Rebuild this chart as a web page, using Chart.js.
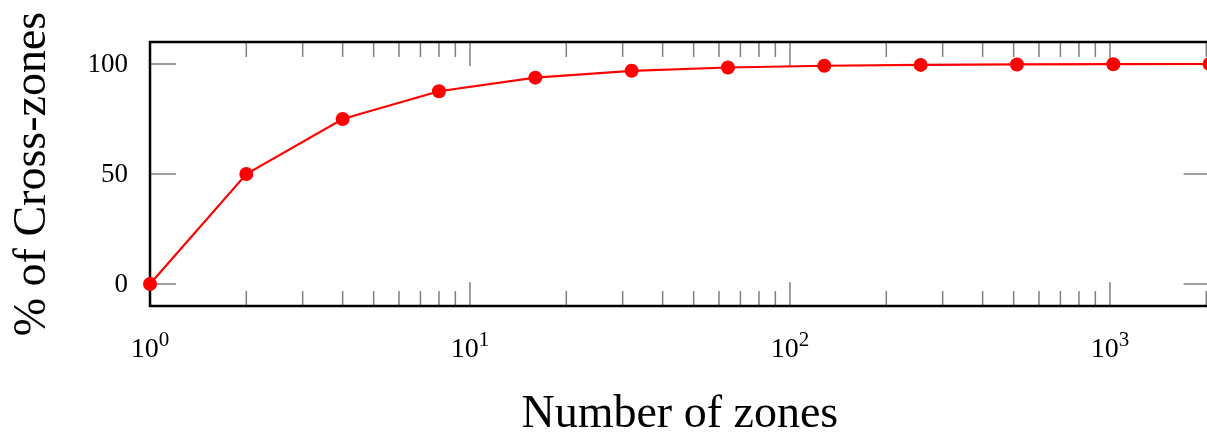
<!DOCTYPE html>
<html>
<head>
<meta charset="utf-8">
<script src="https://cdn.jsdelivr.net/npm/chart.js@4.4.1/dist/chart.umd.min.js"></script>
<style>
    html, body { margin: 0; padding: 0; background: #fff; overflow: hidden; }
    #marco { width: 1207px; height: 433px; overflow: hidden; position: relative; }
    canvas { display: block; }
</style>
</head>
<body>
<div id="marco"><canvas id="grafico" width="1212" height="433"></canvas></div>
<script>
// Datos
const zonas = [1, 2, 4, 8, 16, 32, 64, 128, 256, 512, 1024, 2048];
const porcentajeCross = [0, 50, 75, 87.6, 93.8, 96.9, 98.4, 99.2, 99.6, 99.8, 99.9, 100];
const ticksY = [0, 50, 100];
const decadasX = [0, 1, 2, 3];
const tituloX = 'Number of zones';
const tituloY = '% of Cross-zones';

const fuente = '"Liberation Serif", "Times New Roman", serif';

// Marco, marcas interiores, etiquetas y títulos
const ejes = {
    id: 'ejes',
    beforeDatasetsDraw(chart) {
        const { ctx, chartArea: a, scales: { x, y } } = chart;
        ctx.save();

        // marcas
        ctx.strokeStyle = '#7f7f7f';
        ctx.lineWidth = 1.5;
        ctx.beginPath();
        decadasX.forEach(d => {
            for (let m = 1; m <= 9; m++) {
                const v = m * Math.pow(10, d);
                if (v <= x.min || v > x.max) continue;
                const px = x.getPixelForValue(v);
                const largo = m === 1 ? 24 : 15;
                ctx.moveTo(px, a.bottom); ctx.lineTo(px, a.bottom - largo);
                ctx.moveTo(px, a.top); ctx.lineTo(px, a.top + largo);
            }
        });
        ticksY.forEach(v => {
            const py = y.getPixelForValue(v);
            ctx.moveTo(a.left, py); ctx.lineTo(a.left + 26, py);
            ctx.moveTo(a.right, py); ctx.lineTo(a.right - 26, py);
        });
        ctx.stroke();

        // marco
        ctx.strokeStyle = '#000';
        ctx.lineWidth = 2.5;
        ctx.strokeRect(a.left, a.top, a.right - a.left, a.bottom - a.top);

        // etiquetas eje Y
        ctx.fillStyle = '#000';
        ctx.font = '27px ' + fuente;
        ctx.textAlign = 'right';
        ctx.textBaseline = 'middle';
        ticksY.forEach(v => ctx.fillText(String(v), a.left - 22, y.getPixelForValue(v) + 1));

        // etiquetas eje X: 10 con exponente
        ctx.textAlign = 'left';
        ctx.textBaseline = 'alphabetic';
        decadasX.forEach(d => {
            const px = x.getPixelForValue(Math.pow(10, d));
            ctx.font = '28px ' + fuente;
            const wBase = ctx.measureText('10').width;
            ctx.font = '21px ' + fuente;
            const wExp = ctx.measureText(String(d)).width;
            const inicio = px - (wBase + wExp) / 2;
            ctx.font = '28px ' + fuente;
            ctx.fillText('10', inicio, 357);
            ctx.font = '21px ' + fuente;
            ctx.fillText(String(d), inicio + wBase, 346);
        });

        // títulos
        ctx.font = '46px ' + fuente;
        ctx.textAlign = 'center';
        ctx.fillText(tituloX, (a.left + a.right) / 2, 427);
        ctx.save();
        ctx.translate(45, (a.top + a.bottom) / 2);
        ctx.rotate(-Math.PI / 2);
        ctx.fillText(tituloY, 0, 0);
        ctx.restore();

        ctx.restore();
    }
};

new Chart(document.getElementById('grafico').getContext('2d'), {
    type: 'line',
    data: {
        datasets: [{
            data: zonas.map((z, i) => ({ x: z, y: porcentajeCross[i] })),
            borderColor: '#ff0000',
            backgroundColor: '#ff0000',
            borderWidth: 2.2,
            pointRadius: 7,
            pointBorderWidth: 0,
            pointBackgroundColor: '#ff0000',
            tension: 0,
            clip: false
        }]
    },
    options: {
        responsive: false,
        animation: false,
        layout: { autoPadding: false, padding: { left: 150, top: 42, right: 2.4, bottom: 127 } },
        plugins: { legend: { display: false }, tooltip: { enabled: false } },
        scales: {
            x: { type: 'logarithmic', min: 1, max: 2048, display: false },
            y: { type: 'linear', min: -10, max: 110, display: false }
        }
    },
    plugins: [ejes]
});
</script>
</body>
</html>
